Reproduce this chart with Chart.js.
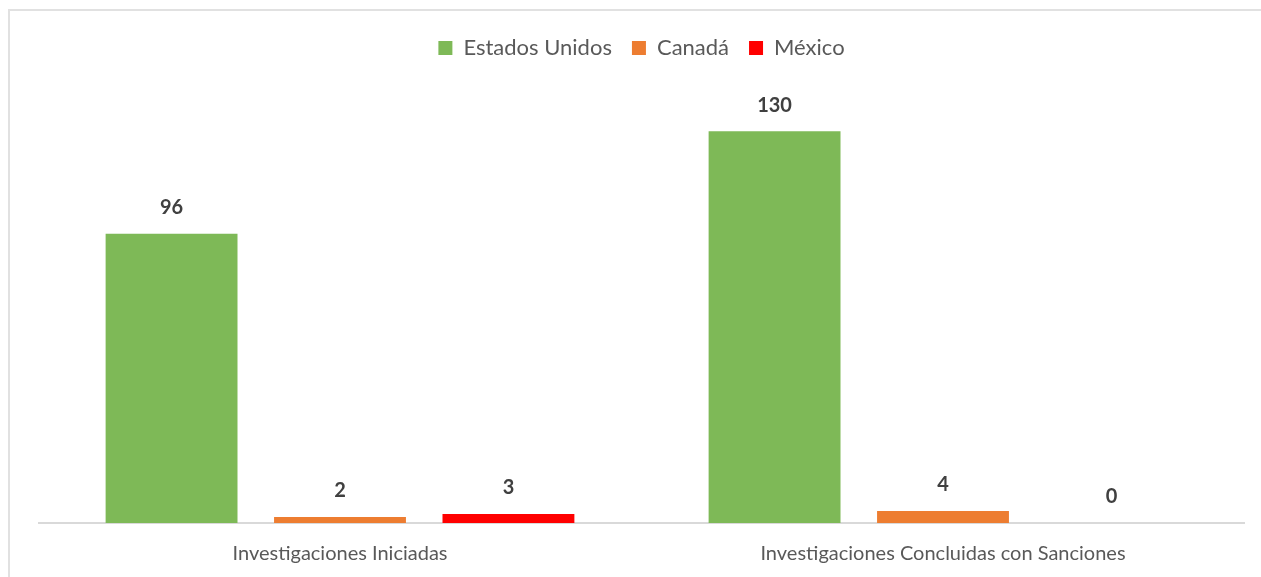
<!DOCTYPE html>
<html lang="es">
<head>
  <meta charset="UTF-8" />
  <title>Investigaciones por país</title>
  <script src="https://cdn.jsdelivr.net/npm/chart.js"></script>
  <style>
    * { box-sizing: border-box; }

    body {
      margin: 0;
      background: #ffffff;
      width: 1261px;
      height: 577px;
      overflow: hidden;
    }

    .frame {
      position: absolute;
      left: 8px;
      top: 9px;
      width: 1300px;
      height: 620px;
      border: 2px solid #e1e1e1;
    }

    .chart-box {
      position: absolute;
      left: 9px;
      top: 10px;
      width: 1252px;
      height: 586px;
    }
  </style>
</head>
<body>

<div class="frame"></div>
<div class="chart-box">
  <canvas id="investChart"></canvas>
</div>

<script>
  const categories = ['Investigaciones Iniciadas', 'Investigaciones Concluidas con Sanciones'];
  const seriesNames = ['Estados Unidos', 'Canadá', 'México'];
  const estadosUnidos = [96, 130];
  const canada = [2, 4];
  const mexico = [3, 0];
  const seriesColors = ['#7eb957', '#ed7d31', '#ff0000'];

  const FONT = 'Lato, "Open Sans", sans-serif';

  // value labels drawn above each bar
  const barValues = {
    id: 'barValues',
    afterDatasetsDraw(chart) {
      const ctx = chart.ctx;
      ctx.save();
      ctx.font = 'bold 20px ' + FONT;
      ctx.fillStyle = '#404040';
      ctx.textAlign = 'center';
      ctx.textBaseline = 'middle';
      chart.data.datasets.forEach((ds, i) => {
        chart.getDatasetMeta(i).data.forEach((bar, j) => {
          ctx.fillText(ds.data[j], bar.x, bar.y - 26);
        });
      });
      ctx.restore();
    }
  };

  // extra room between the legend and the bars
  const legendGap = {
    id: 'legendGap',
    beforeInit(chart) {
      const fit = chart.legend.fit;
      chart.legend.fit = function () {
        fit.bind(chart.legend)();
        this.height += 32;
      };
    }
  };

  new Chart(document.getElementById('investChart'), {
    type: 'bar',
    data: {
      labels: categories,
      datasets: [
        { label: seriesNames[0], data: estadosUnidos, backgroundColor: seriesColors[0] },
        { label: seriesNames[1], data: canada, backgroundColor: seriesColors[1] },
        { label: seriesNames[2], data: mexico, backgroundColor: seriesColors[2] }
      ]
    },
    options: {
      responsive: true,
      maintainAspectRatio: false,
      animation: false,
      categoryPercentage: 0.838,
      barPercentage: 0.783,
      layout: {
        padding: { left: 29.5, right: 16.5, top: 7, bottom: 11 }
      },
      plugins: {
        legend: {
          position: 'top',
          labels: {
            font: { family: FONT, size: 22 },
            color: '#595959',
            boxWidth: 14,
            boxHeight: 14,
            padding: 20
          }
        },
        tooltip: { enabled: false }
      },
      scales: {
        x: {
          grid: { display: false, drawTicks: false },
          border: { color: '#d9d9d9', width: 2 },
          ticks: {
            font: { family: FONT, size: 20 },
            color: '#595959',
            padding: 19
          }
        },
        y: {
          display: false,
          min: 0,
          max: 140
        }
      }
    },
    plugins: [barValues, legendGap]
  });
</script>

</body>
</html>
